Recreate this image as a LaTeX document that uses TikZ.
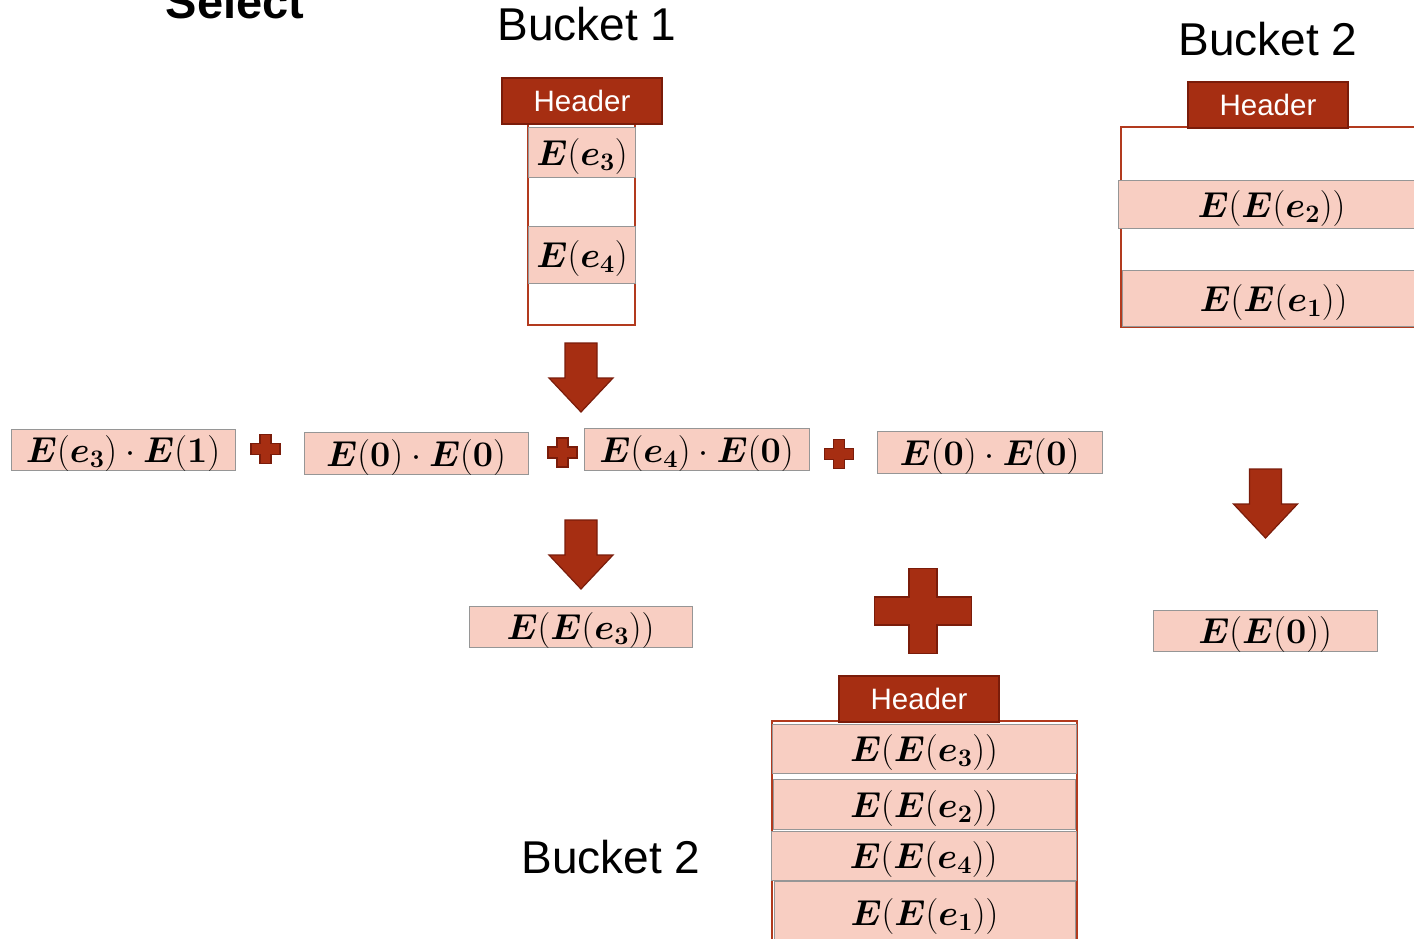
\RequirePackage{fix-cm}
\documentclass[tikz,border=0pt]{standalone}
\usepackage[no-math]{fontspec}
\usepackage{amsmath,bm}
\newfontfamily\hfont{Liberation Sans}
\definecolor{hdrfill}{RGB}{166,46,18}
\definecolor{hdrbd}{RGB}{122,28,10}
\definecolor{cellfill}{RGB}{248,206,194}
\definecolor{cellbd}{RGB}{150,150,150}
\definecolor{colbd}{RGB}{178,58,30}
\newcommand{\symE}{\bm{E}}
\newcommand{\syme}{\bm{e}}
\begin{document}
\begin{tikzpicture}[x=1pt,y=-1pt,
  hdr/.style={draw=hdrbd, line width=1.5pt, fill=hdrfill, text=white,
    minimum width=160pt, minimum height=46pt, inner sep=0pt,
    font=\hfont\fontsize{29.5}{31}\selectfont},
  cell/.style={draw=cellbd, line width=1pt, fill=cellfill, inner sep=0pt,
    text height=32pt, text depth=6pt,
    font=\fontsize{36}{42}\selectfont},
  col/.style={draw=colbd, line width=1.5pt, fill=white, inner sep=0pt},
  bucketlabel/.style={font=\hfont\fontsize{46}{50}\selectfont, anchor=base, inner sep=0pt},
  shapefill/.style={fill=hdrfill, draw=hdrbd, line width=1.2pt, line join=miter},
  pics/downarr/.style={code={
    \draw[shapefill] (-16,0) -- (16,0) -- (16,35) -- (32,35) -- (0,69)
      -- (-32,35) -- (-16,35) -- cycle;}},
  pics/plussign/.style n args={3}{code={
    \draw[shapefill] (-#3,-#2) -- (#3,-#2) -- (#3,-#3) -- (#1,-#3) -- (#1,#3)
      -- (#3,#3) -- (#3,#2) -- (-#3,#2) -- (-#3,#3) -- (-#1,#3) -- (-#1,-#3)
      -- (-#3,-#3) -- cycle;}},
]
\useasboundingbox (0,0) rectangle (1414,938);
\clip (0,0) rectangle (1414,938);

% heading, partly above the top edge
\node[font=\hfont\bfseries\fontsize{47}{50}\selectfont, anchor=base, inner sep=0pt]
  (select) at (235,18) {Select};

% ---- Bucket 1 ----
\node[bucketlabel] (lab1) at (587,40) {Bucket 1};
\node[col, minimum width=107pt, minimum height=201pt] (b1) at (581.5,224.5) {};
\node[cell, minimum width=107pt, minimum height=50pt] (b1c1) at (582,152)
  {$\symE(\syme_{\mathbf 3})$};
\node[cell, minimum width=107pt, minimum height=57pt] (b1c3) at (582,254.5)
  {$\symE(\syme_{\mathbf 4})$};
\node[hdr] (h1) at (582,101) {Header};

% ---- Bucket 2 (input) ----
\node[bucketlabel] (lab2) at (1268,55) {Bucket 2};
\node[col, minimum width=304pt, minimum height=200pt] (b2) at (1273,227) {};
\node[cell, minimum width=307pt, minimum height=48pt] (b2c1) at (1271.5,204)
  {$\symE(\symE(\syme_{\mathbf 2}))$};
\node[cell, minimum width=303pt, minimum height=56pt] (b2c2) at (1273.5,298)
  {$\symE(\symE(\syme_{\mathbf 1}))$};
\node[hdr] (h2) at (1268,105) {Header};

% ---- arrows ----
\pic at (581,343) {downarr};
\pic at (581,520) {downarr};
\pic at (1265.5,469) {downarr};

% ---- products row ----
\node[cell, minimum width=224pt, minimum height=41pt] (p1) at (123,449.5)
  {$\symE(\syme_{\mathbf 3})\cdot\symE(\mathbf 1)$};
\pic at (265.5,449) {plussign={14.5}{14.5}{5.5}};
\node[cell, minimum width=224pt, minimum height=42pt] (p2) at (416,453)
  {$\symE(\mathbf 0)\cdot\symE(\mathbf 0)$};
\pic at (562.5,452.5) {plussign={14.5}{14.5}{5.5}};
\node[cell, minimum width=225pt, minimum height=42pt] (p3) at (696.5,449)
  {$\symE(\syme_{\mathbf 4})\cdot\symE(\mathbf 0)$};
\pic at (839,454) {plussign={14.5}{14.5}{5.5}};
\node[cell, minimum width=225pt, minimum height=42pt] (p4) at (989.5,452)
  {$\symE(\mathbf 0)\cdot\symE(\mathbf 0)$};

% ---- results ----
\node[cell, minimum width=223pt, minimum height=41pt] (r1) at (580.5,626.5)
  {$\symE(\symE(\syme_{\mathbf 3}))$};
\node[cell, minimum width=224pt, minimum height=41pt] (r2) at (1265,630.5)
  {$\symE(\symE(\mathbf 0))$};
\pic at (923,611) {plussign={48.5}{42.5}{14}};

% ---- Bucket 2 (output) ----
\node[bucketlabel] (lab3) at (611,873) {Bucket 2};
\node[col, minimum width=305pt, minimum height=224pt] (b3) at (924.5,833) {};
\node[cell, minimum width=304pt, minimum height=49pt] (b3c1) at (924,748.5)
  {$\symE(\symE(\syme_{\mathbf 3}))$};
\node[cell, minimum width=302pt, minimum height=50pt] (b3c2) at (924,804)
  {$\symE(\symE(\syme_{\mathbf 2}))$};
\node[cell, minimum width=305pt, minimum height=49pt] (b3c3) at (923.5,855.5)
  {$\symE(\symE(\syme_{\mathbf 4}))$};
\node[cell, minimum width=301pt, minimum height=62pt] (b3c4) at (924.5,912)
  {$\symE(\symE(\syme_{\mathbf 1}))$};
\node[hdr] (h3) at (919,699) {Header};
\end{tikzpicture}
\end{document}
